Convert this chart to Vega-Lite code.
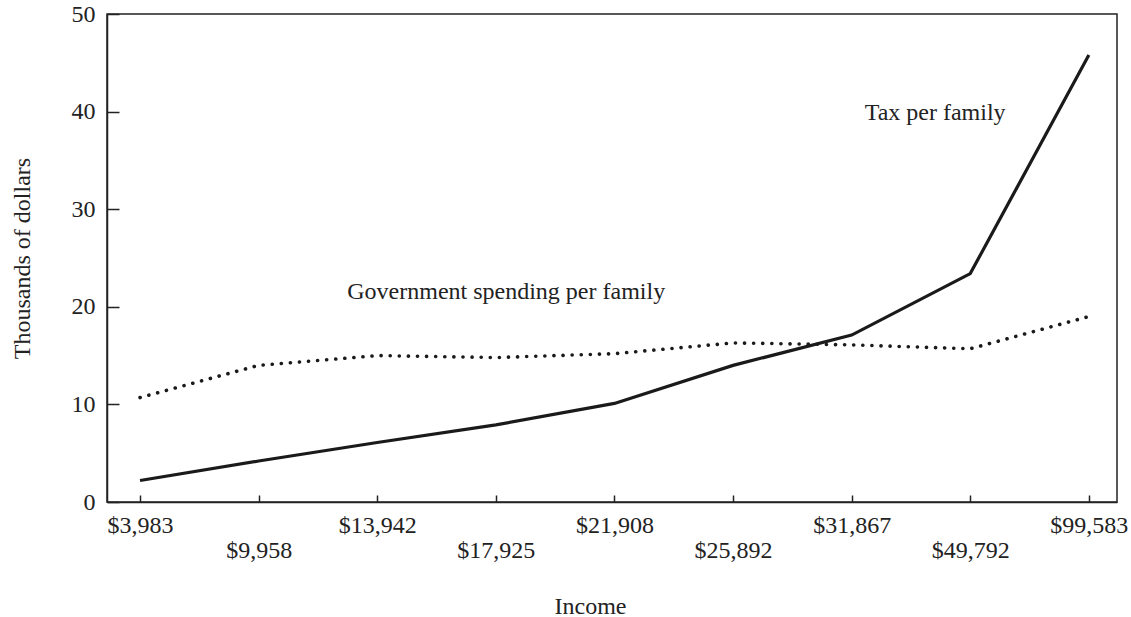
{
  "$schema": "https://vega.github.io/schema/vega-lite/v6.json",
  "width": 1010,
  "height": 488,
  "autosize": {"type": "none"},
  "padding": {"left": 107, "top": 14, "right": 14, "bottom": 115},
  "background": "white",
  "config": {
    "font": "Liberation Serif",
    "view": {"stroke": "#222", "strokeWidth": 1.5},
    "axis": {
      "labelFont": "Liberation Serif",
      "titleFont": "Liberation Serif",
      "labelFontSize": 24,
      "titleFontSize": 24,
      "titleFontWeight": "normal",
      "labelColor": "#222",
      "titleColor": "#222",
      "domainColor": "#222",
      "domainWidth": 1.5,
      "tickColor": "#222",
      "tickWidth": 1.5,
      "grid": false
    }
  },
  "datasets": {
    "series": [
      {"income": "$3,983", "series": "Tax per family", "value": 2.2},
      {"income": "$9,958", "series": "Tax per family", "value": 4.2},
      {"income": "$13,942", "series": "Tax per family", "value": 6.1},
      {"income": "$17,925", "series": "Tax per family", "value": 7.9},
      {"income": "$21,908", "series": "Tax per family", "value": 10.1},
      {"income": "$25,892", "series": "Tax per family", "value": 14.0},
      {"income": "$31,867", "series": "Tax per family", "value": 17.1},
      {"income": "$49,792", "series": "Tax per family", "value": 23.4},
      {"income": "$99,583", "series": "Tax per family", "value": 45.8},
      {"income": "$3,983", "series": "Government spending per family", "value": 10.7},
      {"income": "$9,958", "series": "Government spending per family", "value": 14.0},
      {"income": "$13,942", "series": "Government spending per family", "value": 15.0},
      {"income": "$17,925", "series": "Government spending per family", "value": 14.8},
      {"income": "$21,908", "series": "Government spending per family", "value": 15.2},
      {"income": "$25,892", "series": "Government spending per family", "value": 16.3},
      {"income": "$31,867", "series": "Government spending per family", "value": 16.1},
      {"income": "$49,792", "series": "Government spending per family", "value": 15.7},
      {"income": "$99,583", "series": "Government spending per family", "value": 19.0}
    ],
    "notes": [
      {"income": "$13,942", "value": 21.5, "text": "Government spending per family", "shift": -30},
      {"income": "$31,867", "value": 39.9, "text": "Tax per family", "shift": 13}
    ]
  },
  "encoding": {
    "x": {
      "field": "income",
      "type": "ordinal",
      "sort": null,
      "scale": {"type": "point", "padding": 0.258, "align": 0.54},
      "axis": {
        "title": "Income",
        "labelAngle": 0,
        "tickSize": -7,
        "labelPadding": 18,
        "labelLineHeight": 25,
        "labelOverlap": false,
        "labelBound": false,
        "labelFlush": false,
        "labelExpr": "indexof(domain('x'), datum.value) % 2 ? ['', datum.label] : datum.label",
        "titlePadding": 32,
        "titleX": 483
      }
    },
    "y": {
      "field": "value",
      "type": "quantitative",
      "scale": {"domain": [0, 50], "nice": false},
      "axis": {
        "title": "Thousands of dollars",
        "values": [0, 10, 20, 30, 40, 50],
        "tickSize": -12,
        "labelPadding": 24,
        "titlePadding": 37
      }
    }
  },
  "layer": [
    {
      "data": {"name": "series"},
      "transform": [{"filter": "datum.series == 'Tax per family'"}],
      "mark": {"type": "line", "color": "#1a1a1a", "strokeWidth": 3.2, "strokeJoin": "miter"}
    },
    {
      "data": {"name": "series"},
      "transform": [{"filter": "datum.series == 'Government spending per family'"}],
      "mark": {"type": "line", "color": "#1a1a1a", "strokeWidth": 3.6, "strokeCap": "round", "strokeDash": [0.1, 9]}
    },
    {
      "data": {"name": "notes"},
      "mark": {"type": "text", "align": "left", "baseline": "middle", "font": "Liberation Serif", "fontSize": 24, "color": "#222"},
      "encoding": {
        "text": {"field": "text"},
        "xOffset": {"field": "shift", "type": "quantitative", "scale": null}
      }
    }
  ]
}
